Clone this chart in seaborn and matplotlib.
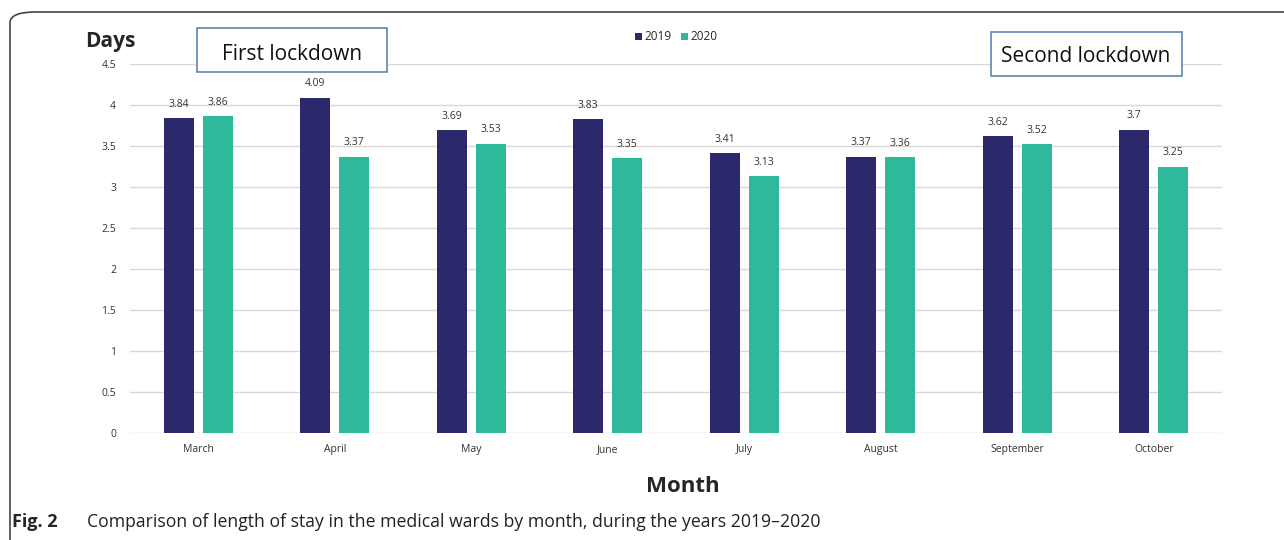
import numpy as np
import pandas as pd
import matplotlib
matplotlib.use("Agg")
import matplotlib.pyplot as plt
from matplotlib.patches import FancyBboxPatch, Rectangle
import seaborn as sns

months = ["March", "April", "May", "June", "July", "August", "September", "October"]
years = ["2019", "2020"]
stay_2019 = [3.84, 4.09, 3.69, 3.83, 3.41, 3.37, 3.62, 3.7]
stay_2020 = [3.86, 3.37, 3.53, 3.35, 3.13, 3.36, 3.52, 3.25]
colors = ["#2B286C", "#2EBA9A"]

df = pd.DataFrame({
    "Month": months * 2,
    "Year": [years[0]] * len(months) + [years[1]] * len(months),
    "Days": stay_2019 + stay_2020,
})

sns.set_theme(style="white")
plt.rcParams["font.family"] = ["Open Sans", "DejaVu Sans"]

W, H = 1284, 540
fig = plt.figure(figsize=(W / 100, H / 100), dpi=100)
ax = fig.add_axes([130 / W, 1 - 433 / H, 1092 / W, 369 / H])

sns.barplot(data=df, x="Month", y="Days", hue="Year", palette=colors,
            width=0.571, gap=0.23, saturation=1, linewidth=0, ax=ax, legend=True)

for cont in ax.containers:
    ax.bar_label(cont, fmt="%g", padding=6, fontsize=7.5, color="#333333")

ax.set_ylim(0, 4.5)
ax.set_yticks(np.arange(0, 4.51, 0.5))
ax.set_yticklabels(["0", "0.5", "1", "1.5", "2", "2.5", "3", "3.5", "4", "4.5"])
ax.set_xlim(-0.5, len(months) - 0.5)
ax.yaxis.grid(True, color="#D9D9D9", linewidth=1)
ax.set_axisbelow(True)
for s in ax.spines.values():
    s.set_visible(False)
ax.tick_params(axis="y", length=0, labelsize=7.5, colors="#333333", pad=10)
ax.tick_params(axis="x", length=0, labelsize=7.5, colors="#333333", pad=8)
ax.set_xlabel("")
ax.set_ylabel("")

ax.legend(loc="center", bbox_to_anchor=(0.5, 1.0 + 27 / 369), ncol=2, frameon=False,
          fontsize=8.5, handlelength=0.6, handleheight=0.6, handletextpad=0.2,
          columnspacing=0.8, borderaxespad=0)

fig.text(85 / W, 1 - 42 / H, "Days", fontsize=15, fontweight="bold", va="center")
fig.text(683 / W, 1 - 486 / H, "Month", fontsize=16, fontweight="bold",
         ha="center", va="center")

# annotation boxes
for (x0, y0, x1, y1) in [(197, 28, 387, 72), (991, 32, 1182, 76)]:
    fig.patches.append(Rectangle((x0 / W, 1 - y1 / H), (x1 - x0) / W, (y1 - y0) / H,
                                 transform=fig.transFigure, facecolor="white",
                                 edgecolor="#4F7CAC", linewidth=1.1, zorder=5))
fig.text(292 / W, 1 - 54 / H, "First lockdown", fontsize=15, ha="center",
         va="center", color="#111111", zorder=6)
fig.text(1086 / W, 1 - 57 / H, "Second lockdown", fontsize=15, ha="center",
         va="center", color="#111111", zorder=6)

fig.text(12 / W, 1 - 522 / H, "Fig. 2", fontsize=13, fontweight="bold", va="center")
fig.text(87 / W, 1 - 522 / H,
         "Comparison of length of stay in the medical wards by month, during the years 2019\u20132020",
         fontsize=12.7, va="center", color="#222222")

frame = FancyBboxPatch((10 / W, -0.1), 1.2, 1 - 12 / H + 0.1,
                       boxstyle="round,pad=0,rounding_size=0.02",
                       transform=fig.transFigure, facecolor="none",
                       edgecolor="#444444", linewidth=1.2, clip_on=False)
fig.patches.append(frame)

fig.savefig("out.png", dpi=100)
